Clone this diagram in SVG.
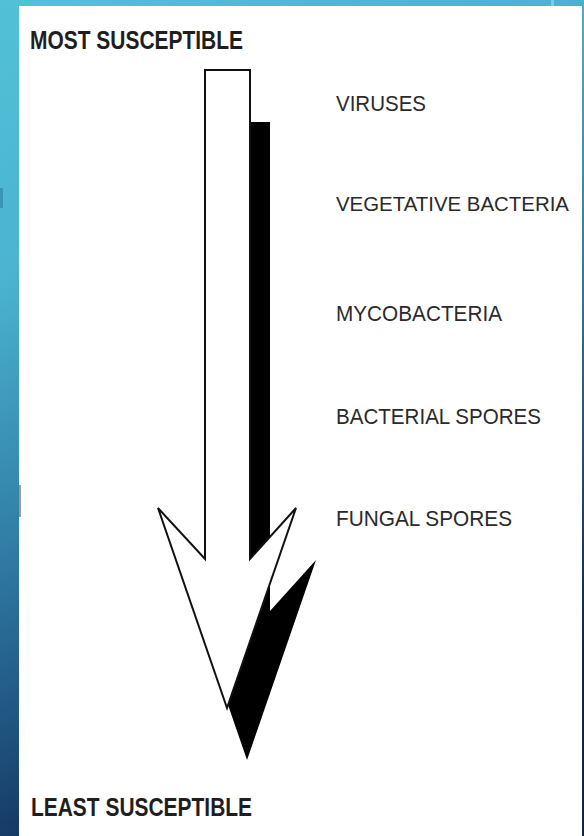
<svg xmlns="http://www.w3.org/2000/svg" width="584" height="836" viewBox="0 0 584 836">
  <defs>
    <linearGradient id="bg" x1="0" y1="0" x2="0.35" y2="1">
      <stop offset="0" stop-color="#52c1d7"/>
      <stop offset="0.3" stop-color="#4bb3cf"/>
      <stop offset="0.6" stop-color="#2f7aa4"/>
      <stop offset="1" stop-color="#0c2450"/>
    </linearGradient>
    <polygon id="arrowShape" points="205,70 250,70 250,559 296,508 227,708 158,508 205,559"/>
  </defs>
  <style>
    .lbl { font-family: "Liberation Sans", Arial, sans-serif; font-size: 22px; fill: #2a2a2a; }
    .end { font-family: "Liberation Sans", Arial, sans-serif; font-size: 25px; font-weight: bold; fill: #1e1e1e; }
  </style>

  <rect x="0" y="0" width="584" height="836" fill="url(#bg)"/>
  <rect x="551" y="0" width="3" height="6" fill="#7fe0ee" opacity="0.7"/>
  <rect x="0" y="188" width="3" height="20" fill="#2f7f9e" opacity="0.6"/>
  <rect x="19" y="6" width="563" height="830" fill="#ffffff"/>
  <rect x="19" y="485" width="2" height="32" fill="#9a9a9a"/>

  <g id="connectors">
    <g id="arrow">
      <use href="#arrowShape" transform="translate(20,52)" fill="#000000"/>
      <use href="#arrowShape" fill="#ffffff" stroke="#111111" stroke-width="2" stroke-linejoin="miter"/>
    </g>
  </g>

  <g id="most-susceptible"><text class="end" x="30" y="49" textLength="213" lengthAdjust="spacingAndGlyphs">MOST SUSCEPTIBLE</text></g>
  <g id="least-susceptible"><text class="end" x="31" y="816" textLength="221" lengthAdjust="spacingAndGlyphs">LEAST SUSCEPTIBLE</text></g>

  <g id="viruses"><text class="lbl" x="336" y="111" textLength="90" lengthAdjust="spacingAndGlyphs">VIRUSES</text></g>
  <g id="vegetative-bacteria"><text class="lbl" x="336" y="211" style="font-size:20.5px" textLength="233" lengthAdjust="spacingAndGlyphs">VEGETATIVE BACTERIA</text></g>
  <g id="mycobacteria"><text class="lbl" x="336" y="321" textLength="166" lengthAdjust="spacingAndGlyphs">MYCOBACTERIA</text></g>
  <g id="bacterial-spores"><text class="lbl" x="336" y="424" textLength="205" lengthAdjust="spacingAndGlyphs">BACTERIAL SPORES</text></g>
  <g id="fungal-spores"><text class="lbl" x="336" y="526" textLength="176" lengthAdjust="spacingAndGlyphs">FUNGAL SPORES</text></g>
</svg>
